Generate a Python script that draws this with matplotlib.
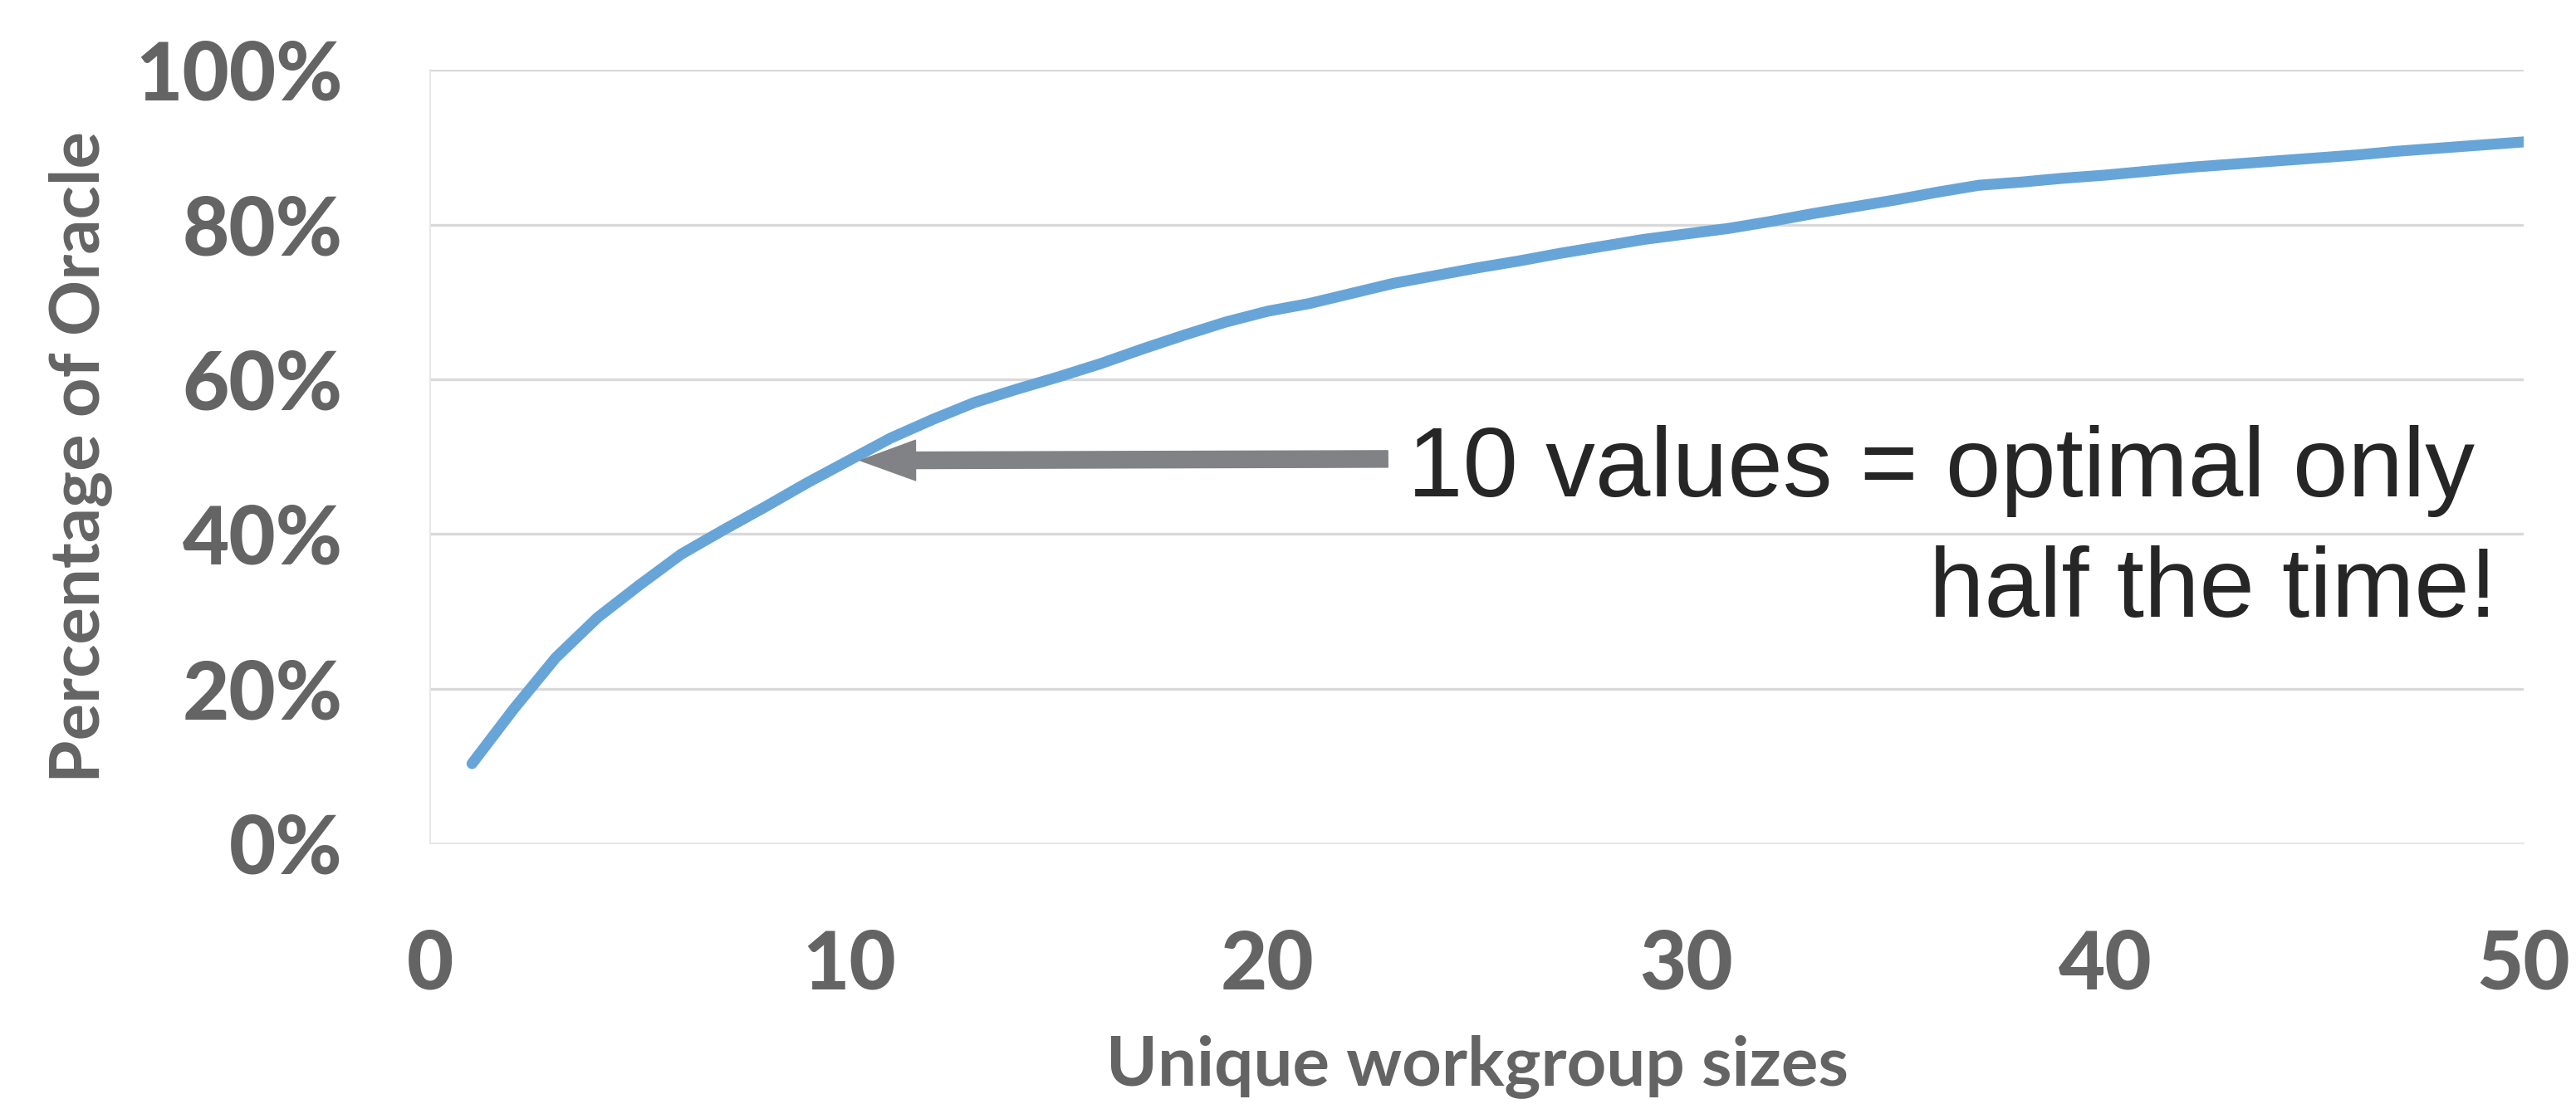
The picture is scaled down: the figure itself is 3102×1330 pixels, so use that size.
import matplotlib
matplotlib.use("Agg")
import matplotlib.pyplot as plt

# Share of the oracle's performance reached vs. number of distinct workgroup sizes
workgroup_sizes = list(range(1, 51))
pct_of_oracle = [
    10.3, 17.4, 24.0, 29.2, 33.4, 37.4, 40.5, 43.5, 46.6, 49.5,
    52.4, 54.8, 57.0, 58.7, 60.3, 62.0, 63.9, 65.7, 67.4, 68.8,
    69.8, 71.1, 72.4, 73.4, 74.4, 75.3, 76.3, 77.2, 78.1, 78.8,
    79.5, 80.4, 81.4, 82.3, 83.2, 84.2, 85.1, 85.5, 86.0, 86.4,
    86.9, 87.4, 87.8, 88.2, 88.6, 89.0, 89.5, 89.9, 90.3, 90.7,
]

x_ticks = [0, 10, 20, 30, 40, 50]
y_ticks = [0, 20, 40, 60, 80, 100]
y_tick_labels = ["0%", "20%", "40%", "60%", "80%", "100%"]

# arrow from the note back to the curve near 10 sizes
arrow_tip = (10.27, 49.5)
arrow_tail = (22.87, 49.7)

note_line1 = "10 values = optimal only"
note_line2 = "half the time!"

LABEL_GREY = "#646464"


def main():
    fig = plt.figure(figsize=(31.02, 13.30), dpi=100)
    ax = fig.add_axes([0.16699, 0.23617, 0.81274, 0.70045])

    # horizontal gridlines (the 0% line is the plot border)
    ax.hlines(y_ticks[1:], 0, 50, colors="#d9d9d9", linewidth=2.4, zorder=1)

    ax.plot(workgroup_sizes, pct_of_oracle, color="#67a5d8", linewidth=9.5,
            solid_capstyle="round", solid_joinstyle="round", zorder=3)

    ax.set_xlim(0, 50)
    ax.set_ylim(0, 100)

    for side in ("top", "right"):
        ax.spines[side].set_visible(False)
    for side in ("left", "bottom"):
        ax.spines[side].set_color("#e3e3e3")
        ax.spines[side].set_linewidth(1.2)

    ax.set_xticks(x_ticks)
    ax.set_xticklabels([str(t) for t in x_ticks], fontfamily="Lato",
                       fontweight="black", fontsize=70, color=LABEL_GREY)
    ax.set_yticks(y_ticks)
    ax.set_yticklabels(y_tick_labels, fontfamily="Lato", fontweight="black",
                       fontsize=70, color=LABEL_GREY)
    ax.tick_params(axis="x", length=0, pad=74)
    ax.tick_params(axis="y", length=0, pad=76)

    ax.set_xlabel("Unique workgroup sizes", fontfamily="Lato", fontweight="bold",
                  fontsize=60, color=LABEL_GREY)
    ax.xaxis.set_label_coords(0.5, -0.247)
    ax.set_ylabel("Percentage of Oracle", fontfamily="Lato", fontweight="bold",
                  fontsize=60, color=LABEL_GREY)
    ax.yaxis.set_label_coords(-0.152, 0.5)

    ax.annotate("", xy=arrow_tip, xytext=arrow_tail,
                arrowprops=dict(arrowstyle="simple,head_length=48,head_width=35,tail_width=14.4",
                                mutation_scale=1, color="#808285", shrinkA=0, shrinkB=0),
                zorder=4)

    fig.text(0.5464, 0.5504, note_line1, ha="left", va="baseline",
             fontfamily="Liberation Sans", fontsize=86, color="#262626")
    fig.text(0.9694, 0.4414, note_line2, ha="right", va="baseline",
             fontfamily="Liberation Sans", fontsize=86, color="#262626")

    fig.savefig("out.png", dpi=100, facecolor="white")


if __name__ == "__main__":
    main()
